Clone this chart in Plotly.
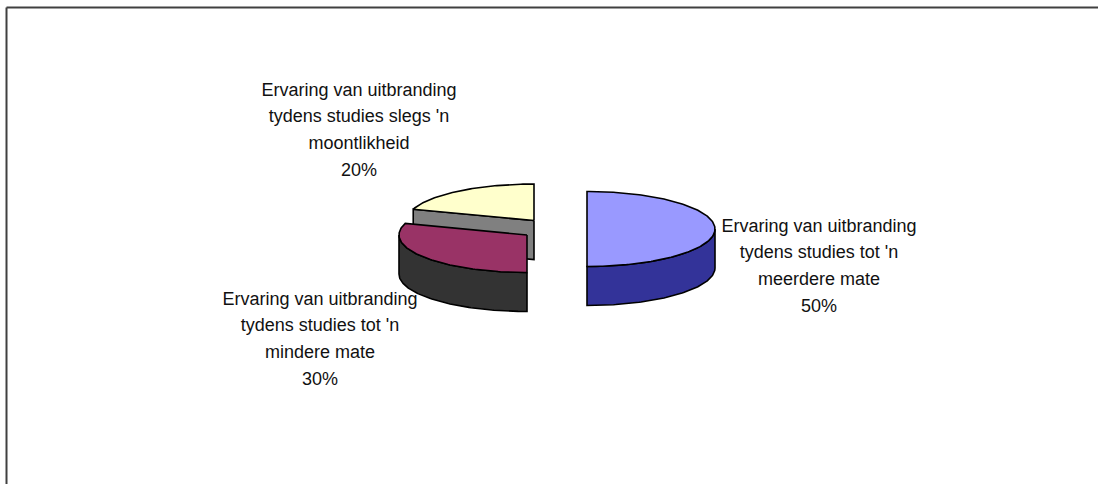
import numpy as np
import plotly.graph_objects as go

# Data
categories = ["Ervaring van uitbranding tydens studies tot 'n meerdere mate",
              "Ervaring van uitbranding tydens studies tot 'n mindere mate",
              "Ervaring van uitbranding tydens studies slegs 'n moontlikheid"]
values = [50, 30, 20]
label_lines = [["Ervaring van uitbranding", "tydens studies tot 'n", "meerdere mate", "50%"],
               ["Ervaring van uitbranding", "tydens studies tot 'n", "mindere mate", "30%"],
               ["Ervaring van uitbranding", "tydens studies slegs 'n", "moontlikheid", "20%"]]

# Style / layout of the exploded pseudo-3D pie (pixel-space axes)
W, H = 1098, 484
top_colors = ["#9999FF", "#993366", "#FFFFCC"]
wall_colors = ["#333399", "#333333", "#808080"]
centers = [(587, 229), (527, 235), (534, 220.5)]
radii = [(128, 37.5), (128, 37.5), (127, 36.5)]
depth = 39
label_pos = [(819, 227), (320, 300), (359, 91)]
line_gap = 26.9


def rim(c, r, a0, a1):
    t = np.radians(np.linspace(a0, a1, max(int(abs(a1 - a0)), 2) + 1))
    return c[0] + r[0] * np.sin(t), c[1] - r[1] * np.cos(t)


def poly(x, y, color):
    return go.Scatter(x=list(x) + [x[0]], y=list(y) + [y[0]], mode="lines", fill="toself",
                      fillcolor=color, line=dict(color="black", width=1.6),
                      hoverinfo="skip", showlegend=False)


fig = go.Figure()
start = np.cumsum([0] + values[:-1]) / sum(values) * 360
spans = np.array(values) / sum(values) * 360
# back slices first, then front-left, then the right slice
for i in [2, 1, 0]:
    a0, a1 = start[i], start[i] + spans[i]
    c, r = centers[i], radii[i]
    # side wall along the leading radial edge when it faces the viewer
    if a0 >= 270:
        rx, ry = rim(c, r, a0, a0)
        xs = [c[0], rx[0], rx[0], c[0]]
        ys = [c[1], ry[0], ry[0] + depth, c[1] + depth]
        fig.add_trace(poly(xs, ys, wall_colors[i]))
    # outer curved wall, visible between 90 and 270 degrees
    w0, w1 = max(a0, 90), min(a1, 270)
    if w1 > w0:
        rx, ry = rim(c, r, w0, w1)
        xs = np.concatenate([rx, rx[::-1]])
        ys = np.concatenate([ry, ry[::-1] + depth])
        fig.add_trace(poly(xs, ys, wall_colors[i]))
    # top face
    rx, ry = rim(c, r, a0, a1)
    fig.add_trace(poly(np.concatenate([[c[0]], rx]), np.concatenate([[c[1]], ry]), top_colors[i]))

# Labels
for lines, (lx, ly) in zip(label_lines, label_pos):
    fig.add_trace(go.Scatter(x=[lx] * len(lines), y=[ly + k * line_gap for k in range(len(lines))],
                             mode="text", text=lines, textposition="middle center",
                             textfont=dict(family="Liberation Sans, Arial, sans-serif", size=18, color="#111111"),
                             hoverinfo="skip", showlegend=False))

# Frame: only the top and left edges are visible in the crop
frame = dict(type="line", xref="x", yref="y", line=dict(color="#404040", width=2))
fig.add_shape(x0=6.5, x1=W, y0=7.5, y1=7.5, **frame)
fig.add_shape(x0=6.5, x1=6.5, y0=7.5, y1=H, **frame)

fig.update_layout(width=W, height=H, margin=dict(l=0, r=0, t=0, b=0),
                  paper_bgcolor="white", plot_bgcolor="white",
                  xaxis=dict(range=[0, W], visible=False, fixedrange=True),
                  yaxis=dict(range=[H, 0], visible=False, fixedrange=True))
fig.write_html("out.html", config={"displayModeBar": False},
               post_script="document.body.style.margin='0';")
